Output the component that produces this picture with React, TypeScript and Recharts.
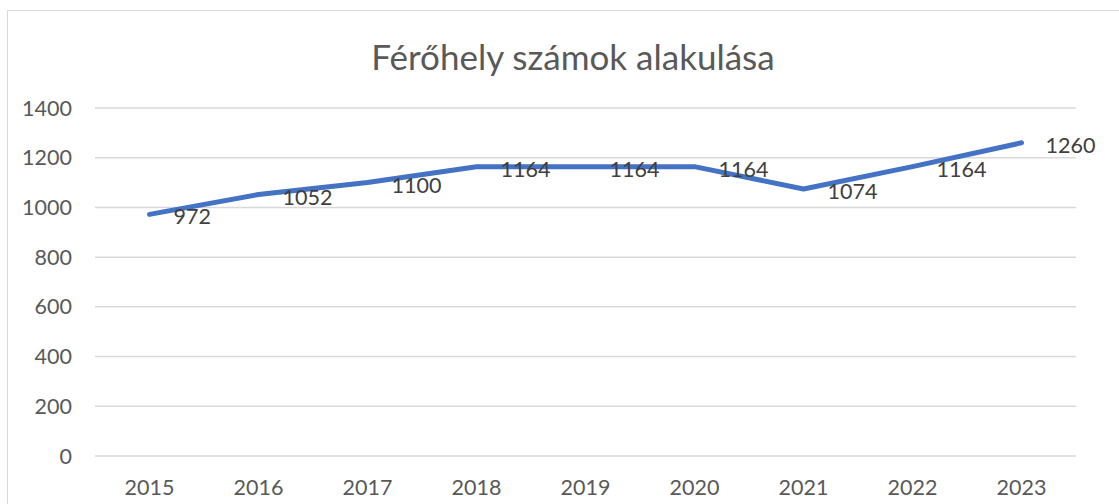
import React from 'react';
import { LineChart, Line, XAxis, YAxis, CartesianGrid, LabelList } from 'recharts';

const years = ['2015', '2016', '2017', '2018', '2019', '2020', '2021', '2022', '2023'];
const places = [972, 1052, 1100, 1164, 1164, 1164, 1074, 1164, 1260];
const yTicks = [0, 200, 400, 600, 800, 1000, 1200, 1400];
const title = 'Férőhely számok alakulása';

const data = years.map((y, i) => ({ year: y, value: places[i] }));

const FONT = 'Lato, "Open Sans", sans-serif';

const ValueLabel = (props: any) => {
  const { x, y, value } = props;
  return (
    <text x={x + 24} y={y + 2} dominantBaseline="central" fill="#404040" fontSize={21.5} fontFamily={FONT}>
      {value}
    </text>
  );
};

export default function App() {
  return (
    <div style={{ position: 'absolute', left: 0, top: 0, width: 1119, height: 504, overflow: 'hidden', background: '#fff' }}>
      <div style={{ position: 'absolute', left: 7, top: 10, width: 1300, height: 700, border: '1.5px solid #d9d9d9', boxSizing: 'border-box' }} />
      <div style={{ position: 'absolute', left: 0, top: 32, width: 1146, textAlign: 'center', fontFamily: FONT, fontSize: 35, lineHeight: '48px', color: '#595959' }}>
        {title}
      </div>
      <div style={{ position: 'absolute', left: 0, top: 0 }}>
        <LineChart width={1119} height={504} data={data} margin={{ top: 108, right: 43, left: 0, bottom: 0 }}>
          <CartesianGrid vertical={false} stroke="#d9d9d9" strokeWidth={1.5} />
          <XAxis
            dataKey="year"
            axisLine={false}
            tickLine={false}
            tickSize={0}
            tickMargin={24}
            height={48}
            padding={{ left: 54.5, right: 54.5 }}
            tick={{ fill: '#595959', fontSize: 21.5, fontFamily: FONT }}
            interval={0}
          />
          <YAxis
            domain={[0, 1400]}
            ticks={yTicks}
            axisLine={false}
            tickLine={false}
            tickSize={0}
            tickMargin={23}
            width={95}
            tick={{ fill: '#595959', fontSize: 21.5, fontFamily: FONT }}
            interval={0}
          />
          <Line
            type="linear"
            dataKey="value"
            stroke="#4472C4"
            strokeWidth={5}
            strokeLinecap="round"
            strokeLinejoin="round"
            dot={false}
            activeDot={false}
            isAnimationActive={false}
          >
            <LabelList dataKey="value" content={<ValueLabel />} />
          </Line>
        </LineChart>
      </div>
    </div>
  );
}
